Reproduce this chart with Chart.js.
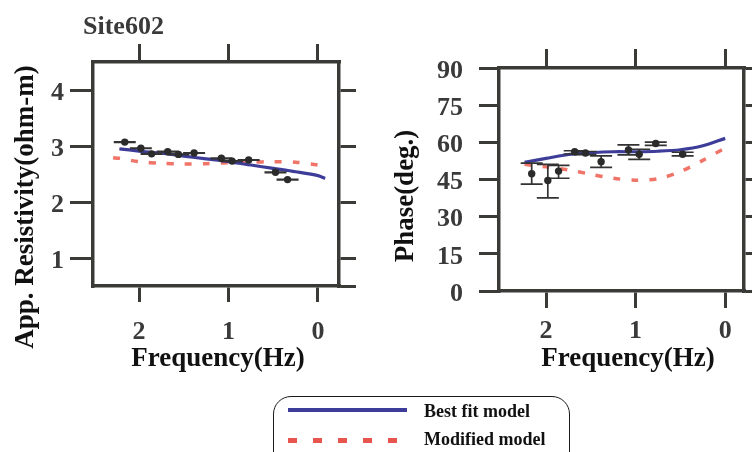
<!DOCTYPE html>
<html>
<head>
<meta charset="utf-8">
<script src="https://cdn.jsdelivr.net/npm/chart.js@4.4.1/dist/chart.umd.min.js"></script>
<style>
  html, body { margin: 0; padding: 0; background: #fff; }
  body { width: 752px; height: 452px; position: relative; overflow: hidden; }
  .panel { position: absolute; top: 0; width: 376px; height: 400px; }
  #legend {
    position: absolute; left: 273px; top: 396px; width: 297px; height: 80px;
    box-sizing: border-box; border: 1.6px solid #1a1a1a; border-radius: 18px;
    font: bold 18px "Liberation Serif", "Times New Roman", serif; color: #111;
  }
  #legend .swatch { position: absolute; left: 14px; height: 4px; }
  #legend .lab { position: absolute; left: 150px; line-height: 20px; white-space: nowrap; }
</style>
</head>
<body>
<div class="panel" style="left:0"><canvas id="rhoChart" width="376" height="400"></canvas></div>
<div class="panel" style="left:376px"><canvas id="phaseChart" width="376" height="400"></canvas></div>
<div id="legend">
  <div class="swatch" style="top:11px; width:119px; background:#3d3d99;"></div>
  <span class="lab" style="top:4px">Best fit model</span>
  <div class="swatch" style="top:41px; width:109px; height:4.5px;
       background:repeating-linear-gradient(to right, #e8554e 0 9px, transparent 9px 25px);"></div>
  <span class="lab" style="top:32px">Modified model</span>
</div>
<script>
// observed data (x = log10 frequency)
const freqLog = [2.16, 1.98, 1.86, 1.68, 1.56, 1.385, 1.08, 0.96, 0.775, 0.475, 0.34];
const rhoObs = [3.07, 2.96, 2.86, 2.90, 2.85, 2.875, 2.78, 2.73, 2.75, 2.53, 2.40];
const rhoErr = [0.004, 0.004, 0.004, 0.004, 0.004, 0.004, 0.004, 0.004, 0.004, 0.004, 0.004];
const phaseObs = [47.3, 44.6, 48.4, 56.2, 55.7, 52.2, 56.9, 55.2, 59.5, 55.2, null];
const phaseLow = [43.1, 37.6, 45.5, 55.3, 55.0, 49.9, 54.9, 53.1, 58.8, 54.5, null];
const phaseHigh = [51.6, 51.1, 50.7, 56.6, 56.3, 54.5, 59.0, 57.2, 60.1, 56.0, null];

// model curves
const rhoModelFreq = [2.29, 2.22, 2.0, 1.75, 1.5, 1.25, 1.0, 0.75, 0.5, 0.25, 0.0, -0.08];
const rhoBest = [null, 2.95, 2.91, 2.87, 2.82, 2.77, 2.72, 2.66, 2.60, 2.54, 2.47, 2.42];
const rhoModified = [2.79, 2.78, 2.72, 2.69, 2.68, 2.685, 2.70, 2.71, 2.72, 2.71, 2.66, 2.62];
const phaseModelFreq = [2.24, 2.0, 1.75, 1.5, 1.25, 1.0, 0.75, 0.5, 0.25, 0.0, -0.03];
const phaseBest = [51.9, 53.5, 55.1, 55.8, 56.2, 56.2, 56.4, 57.0, 58.6, 61.6, null];
const phaseModified = [51.1, 50.1, 48.9, 47.1, 45.5, 44.7, 45.3, 48.2, 52.7, 57.7, 58.2];

const rhoTicks = [1, 2, 3, 4];
const phaseTicks = [0, 15, 30, 45, 60, 75, 90];

const AXIS = "#3a3a36";
const FONT = "'Liberation Serif', 'Times New Roman', serif";
const BLUE = "#3d3d99";
const RED = "#f07468";

function pts(xs, ys) {
  return xs.map((x, i) => ({ x: x, y: ys[i] })).filter((p) => p.y != null);
}

// draws the error bars right before the observed points (dataset 0)
function errorBars(low, high) {
  return {
    id: "errorBars",
    beforeDatasetDraw(chart, args) {
      if (args.index !== 0) return;
      const xs = chart.scales.x, ys = chart.scales.y, ctx = chart.ctx;
      ctx.save();
      ctx.strokeStyle = "#333";
      ctx.lineWidth = 1.7;
      freqLog.forEach((f, i) => {
        if (low[i] == null) return;
        const px = xs.getPixelForValue(f);
        const lo = ys.getPixelForValue(low[i]);
        const hi = ys.getPixelForValue(high[i]);
        ctx.beginPath();
        ctx.moveTo(px, lo); ctx.lineTo(px, hi);
        ctx.moveTo(px - 11, lo); ctx.lineTo(px + 11, lo);
        ctx.moveTo(px - 11, hi); ctx.lineTo(px + 11, hi);
        ctx.stroke();
      });
      ctx.restore();
    },
  };
}

function labels(items) {
  return {
    id: "panelText",
    afterDraw(chart) {
      const ctx = chart.ctx;
      items.forEach((t) => {
        ctx.save();
        ctx.font = t.font;
        ctx.fillStyle = t.color;
        ctx.textAlign = t.align || "center";
        ctx.textBaseline = t.baseline || "middle";
        ctx.translate(t.x, t.y);
        if (t.rotate) ctx.rotate(t.rotate);
        ctx.fillText(t.text, 0, 0);
        ctx.restore();
      });
    },
  };
}

function boxScales(o) {
  const tickFont = { family: FONT, size: 26, weight: "bold" };
  const grid = (len) => ({ drawOnChartArea: false, drawTicks: true, tickLength: len, lineWidth: 3, color: AXIS });
  const border = { display: true, width: 3.5, color: AXIS };
  const fixed = (vals) => (s) => { s.ticks = vals.map((v) => ({ value: v })); };
  return {
    x: {
      type: "linear", position: "bottom", min: o.xMin, max: o.xMax, reverse: true,
      afterFit: (s) => { s.height = o.bottomH; },
      afterBuildTicks: fixed([2, 1, 0]),
      ticks: { padding: o.xPad, color: "#3a3a3a", font: tickFont, maxRotation: 0, autoSkip: false },
      grid: grid(o.bottomTick), border: border,
    },
    xTop: {
      type: "linear", position: "top", min: o.xMin, max: o.xMax, reverse: true,
      afterFit: (s) => { s.height = o.topH; },
      afterBuildTicks: fixed([2, 1, 0]),
      ticks: { display: false },
      grid: grid(o.topTick), border: border,
    },
    y: {
      type: "linear", position: "left", min: o.yMin, max: o.yMax,
      afterFit: (s) => { s.width = o.leftW; },
      afterBuildTicks: fixed(o.yTicks),
      ticks: { padding: o.yPad, labelOffset: o.yOff, color: "#3a3a3a", font: tickFont, autoSkip: false },
      grid: grid(o.leftTick), border: border,
    },
    yRight: {
      type: "linear", position: "right", min: o.yMin, max: o.yMax,
      afterFit: (s) => { s.width = o.rightW; },
      afterBuildTicks: fixed(o.yRightTicks),
      ticks: { display: false },
      grid: grid(o.rightTick), border: border,
    },
  };
}

function datasets(obs, modelFreq, best, modified) {
  return [
    { data: pts(freqLog, obs), pointRadius: 3.7, pointHoverRadius: 3.7, backgroundColor: "#2b2b2b", borderWidth: 0, showLine: false },
    { data: pts(modelFreq, best), showLine: true, pointRadius: 0, borderColor: BLUE, borderWidth: 3.2, tension: 0.3 },
    { data: pts(modelFreq, modified), showLine: true, pointRadius: 0, borderColor: RED, borderWidth: 3.5, borderDash: [7, 11], tension: 0.3 },
  ];
}

const common = {
  responsive: false,
  animation: false,
  events: [],
  layout: { padding: 0 },
  plugins: { legend: { display: false }, tooltip: { enabled: false } },
};

const titleFont = "bold 27px " + FONT;

new Chart(document.getElementById("rhoChart"), {
  type: "scatter",
  data: { datasets: datasets(rhoObs, rhoModelFreq, rhoBest, rhoModified) },
  options: Object.assign({}, common, {
    scales: boxScales({
      xMin: -0.235, xMax: 2.515, yMin: 0.5, yMax: 4.5,
      yTicks: rhoTicks, yRightTicks: [0.5].concat(rhoTicks),
      bottomH: 114, topH: 62, leftW: 93, rightW: 37,
      bottomTick: 16, topTick: 18, leftTick: 23, rightTick: 17,
      xPad: 15, yPad: 6, yOff: 3,
    }),
  }),
  plugins: [
    errorBars(rhoObs.map((v, i) => v - rhoErr[i]), rhoObs.map((v, i) => v + rhoErr[i])),
    labels([
      { text: "Site602", x: 83, y: 33.5, align: "left", baseline: "alphabetic", font: "bold 26px " + FONT, color: "#3a3a3a" },
      { text: "Frequency(Hz)", x: 218, y: 359, font: titleFont, color: "#111" },
      { text: "App. Resistivity(ohm-m)", x: 26, y: 207, rotate: -Math.PI / 2, font: titleFont, color: "#111" },
    ]),
  ],
});

new Chart(document.getElementById("phaseChart"), {
  type: "scatter",
  data: { datasets: datasets(phaseObs, phaseModelFreq, phaseBest, phaseModified) },
  options: Object.assign({}, common, {
    scales: boxScales({
      xMin: -0.21, xMax: 2.525, yMin: 0, yMax: 90,
      yTicks: phaseTicks, yRightTicks: phaseTicks,
      bottomH: 109, topH: 68, leftW: 123, rightW: 8,
      bottomTick: 17, topTick: 19, leftTick: 20, rightTick: 12,
      xPad: 8, yPad: 16, yOff: 3,
    }),
  }),
  plugins: [
    errorBars(phaseLow, phaseHigh),
    labels([
      { text: "Frequency(Hz)", x: 252, y: 359, font: titleFont, color: "#111" },
      { text: "Phase(deg.)", x: 30.5, y: 196, rotate: -Math.PI / 2, font: titleFont, color: "#111" },
    ]),
  ],
});
</script>
</body>
</html>
